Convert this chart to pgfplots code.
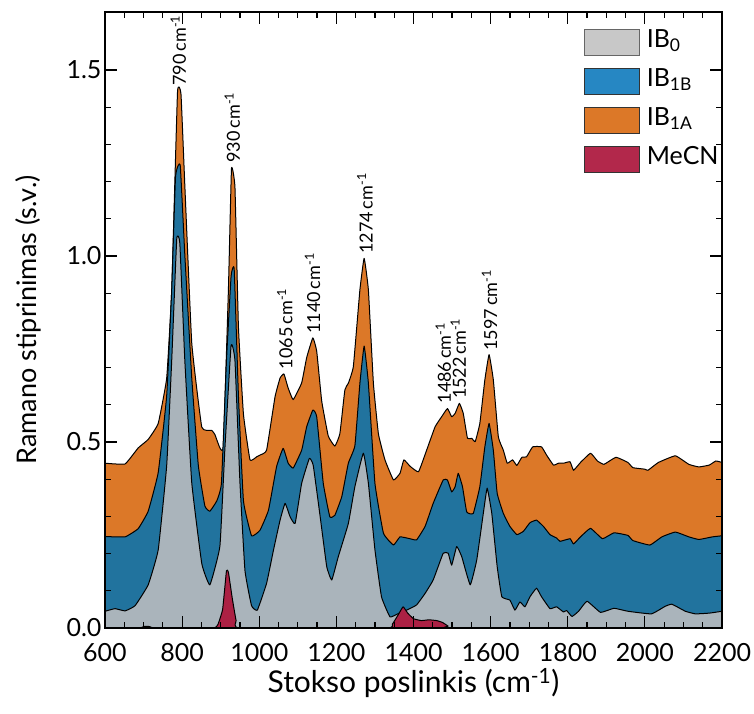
\documentclass[border=0pt]{standalone}
\usepackage{fontspec}
\setmainfont{Lato}
\usepackage{pgfplots}
\usepackage{pgfplotstable}
\pgfplotsset{compat=1.18}
\definecolor{cOr}{RGB}{220,120,40}
\definecolor{cBl}{RGB}{33,115,158}
\definecolor{cGr}{RGB}{170,180,187}
\definecolor{cRd}{RGB}{172,33,68}
\definecolor{lGr}{RGB}{200,200,200}
\definecolor{lBl}{RGB}{38,135,195}
\definecolor{lOr}{RGB}{220,120,40}
\definecolor{lRd}{RGB}{178,40,75}

\pgfplotstableread{
x y
600 0.443
652 0.441
686 0.484
712 0.507
738 0.550
760 0.672
773 0.909
788 1.440
797 1.436
807 1.190
825 0.766
851 0.540
877 0.531
885 0.520
898 0.484
907 0.490
920 0.909
928 1.235
937 1.185
946 0.810
959 0.575
976 0.452
993 0.460
1002 0.465
1019 0.478
1041 0.622
1054 0.672
1064 0.683
1075 0.645
1088 0.614
1110 0.659
1123 0.727
1139 0.780
1149 0.744
1162 0.610
1179 0.516
1196 0.489
1209 0.522
1222 0.640
1231 0.658
1244 0.703
1261 0.909
1272 0.994
1283 0.909
1296 0.658
1309 0.522
1326 0.452
1348 0.398
1365 0.416
1375 0.452
1391 0.435
1413 0.420
1434 0.478
1456 0.541
1473 0.568
1488 0.590
1499 0.568
1508 0.577
1519 0.604
1529 0.577
1540 0.510
1551 0.510
1560 0.501
1572 0.550
1585 0.667
1596 0.735
1607 0.667
1620 0.514
1633 0.478
1643 0.443
1657 0.452
1668 0.437
1681 0.459
1693 0.460
1709 0.487
1732 0.487
1745 0.465
1763 0.438
1776 0.443
1789 0.443
1806 0.447
1815 0.424
1833 0.445
1859 0.470
1877 0.449
1894 0.440
1925 0.459
1956 0.445
1969 0.431
2000 0.427
2008 0.424
2035 0.445
2079 0.463
2114 0.440
2140 0.433
2167 0.438
2184 0.449
2200 0.445
}\tabOr

\pgfplotstableread{
x y
600 0.246
652 0.245
686 0.267
712 0.314
738 0.418
760 0.625
773 0.909
783 1.215
795 1.245
807 1.003
825 0.672
842 0.437
859 0.328
872 0.314
890 0.342
902 0.390
915 0.719
927 0.946
935 0.965
946 0.625
959 0.342
980 0.248
1002 0.263
1024 0.317
1045 0.434
1062 0.483
1075 0.443
1088 0.430
1110 0.478
1123 0.541
1139 0.586
1149 0.568
1166 0.389
1183 0.299
1196 0.303
1214 0.353
1231 0.443
1248 0.490
1261 0.658
1272 0.758
1283 0.658
1300 0.389
1322 0.255
1348 0.223
1365 0.245
1391 0.240
1408 0.237
1430 0.273
1451 0.335
1477 0.398
1488 0.398
1499 0.366
1508 0.380
1516 0.416
1527 0.380
1538 0.312
1555 0.308
1572 0.380
1585 0.487
1596 0.550
1607 0.478
1617 0.362
1633 0.308
1650 0.273
1668 0.251
1685 0.260
1702 0.283
1719 0.290
1737 0.273
1754 0.251
1771 0.242
1780 0.233
1806 0.240
1815 0.226
1833 0.245
1859 0.268
1890 0.240
1920 0.256
1956 0.249
1969 0.235
2013 0.223
2044 0.245
2079 0.258
2114 0.245
2140 0.238
2175 0.245
2200 0.248
}\tabBl

\pgfplotstableread{
x y
600 0.045
626 0.052
652 0.046
678 0.060
712 0.116
738 0.210
760 0.437
773 0.719
786 1.045
794 1.035
807 0.719
825 0.390
851 0.173
872 0.116
898 0.220
911 0.484
927 0.760
937 0.719
950 0.390
963 0.154
980 0.060
995 0.048
1019 0.120
1037 0.210
1054 0.290
1067 0.335
1080 0.299
1093 0.281
1110 0.389
1130 0.456
1140 0.437
1158 0.299
1175 0.165
1188 0.129
1205 0.192
1231 0.281
1248 0.380
1270 0.470
1283 0.389
1300 0.210
1317 0.084
1339 0.030
1361 0.039
1382 0.048
1408 0.062
1430 0.093
1451 0.129
1477 0.201
1490 0.201
1499 0.169
1512 0.219
1525 0.192
1547 0.116
1564 0.183
1581 0.308
1591 0.376
1603 0.308
1617 0.165
1629 0.084
1650 0.075
1663 0.048
1676 0.070
1689 0.057
1702 0.084
1719 0.107
1732 0.084
1754 0.052
1771 0.057
1789 0.043
1797 0.047
1811 0.031
1828 0.045
1850 0.072
1885 0.042
1920 0.053
1956 0.045
2017 0.038
2052 0.058
2070 0.064
2105 0.045
2131 0.038
2167 0.040
2200 0.045
}\tabGr

\pgfplotstableread{
x y
600 0
690 0
700 0.004
715 0.004
730 0
880 0
893 0.010
905 0.050
915 0.154
920 0.150
930 0.080
940 0.020
950 0
1330 0
1345 0.010
1360 0.035
1373 0.057
1385 0.040
1400 0.025
1420 0.020
1440 0.022
1460 0.020
1475 0.015
1490 0.005
1500 0
2200 0
}\tabRd

\begin{document}
\begin{tikzpicture}
\begin{axis}[
  scale only axis, width=617pt, height=616pt,
  xmin=600, xmax=2200, ymin=0, ymax=1.656,
  xtick={600,800,...,2200}, minor x tick num=3,
  ytick={0,0.5,1,1.5}, minor y tick num=4,
  tick align=inside, xtick pos=both, ytick pos=both,
  major tick length=12pt, minor tick length=6pt,
  every tick/.style={black, line width=1.2pt},
  axis line style={line width=1.6pt},
  tick label style={font=\fontsize{25}{30}\selectfont},
  /pgf/number format/assume math mode=true,
  yticklabel style={/pgf/number format/.cd, fixed, fixed zerofill, precision=1},
  xticklabel style={/pgf/number format/1000 sep={}, yshift=-12pt},
  xlabel={Stokso poslinkis (cm\textsuperscript{-1})},
  ylabel={Ramano stiprinimas (s.v.)},
  xlabel style={font=\fontsize{30}{34}\selectfont, at={(axis description cs:0.5,-0.09)}, anchor=center},
  ylabel style={font=\fontsize{27}{32}\selectfont, at={(axis description cs:-0.125,0.5)}, anchor=center},
  axis on top,
  legend image code/.code={\draw[#1] (0pt,-13pt) rectangle (55pt,13pt);},
  legend style={at={(axis description cs:0.776,0.975)}, anchor=north west, draw=none, fill=none,
    font=\fontsize{25}{28}\selectfont, row sep=10pt, inner sep=0pt,
    nodes={text height=18pt, text depth=7pt},
    /tikz/every odd column/.append style={column sep=5pt}},
  legend cell align=left,
]
\addlegendimage{fill=lGr, draw=black!60, line width=0.8pt}
\addlegendentry{IB\textsubscript{0}}
\addlegendimage{fill=lBl, draw=black!80, line width=0.8pt}
\addlegendentry{IB\textsubscript{1B}}
\addlegendimage{fill=lOr, draw=black!80, line width=0.8pt}
\addlegendentry{IB\textsubscript{1A}}
\addlegendimage{fill=lRd, draw=black!80, line width=0.8pt}
\addlegendentry{MeCN}

\addplot[forget plot, smooth, tension=0.2, fill=cOr, draw=black, line width=1pt, line join=round] table {\tabOr} \closedcycle;
\addplot[forget plot, smooth, tension=0.2, fill=cBl, draw=black, line width=1pt, line join=round] table {\tabBl} \closedcycle;
\addplot[forget plot, smooth, tension=0.2, fill=cGr, draw=black, line width=1pt, line join=round] table {\tabGr} \closedcycle;
\addplot[forget plot, smooth, tension=0.2, fill=cRd, draw=black, line width=1pt, line join=round] table {\tabRd} \closedcycle;

\tikzset{pk/.style={rotate=90, anchor=west, font=\fontsize{18}{20}\selectfont, inner sep=2pt}}
\node[pk] at (axis cs:790,1.452) {790\,cm\textsuperscript{-1}};
\node[pk] at (axis cs:930,1.245) {930\,cm\textsuperscript{-1}};
\node[pk] at (axis cs:1066,0.69) {1065\,cm\textsuperscript{-1}};
\node[pk] at (axis cs:1138,0.785) {1140\,cm\textsuperscript{-1}};
\node[pk] at (axis cs:1274,1.0) {1274\,cm\textsuperscript{-1}};
\node[pk] at (axis cs:1477,0.598) {1486\,cm\textsuperscript{-1}};
\node[pk] at (axis cs:1516,0.61) {1522\,cm\textsuperscript{-1}};
\node[pk] at (axis cs:1597,0.74) {1597\,cm\textsuperscript{-1}};
\end{axis}
\pgfresetboundingbox
\path ([xshift=-105pt,yshift=-85pt]current axis.south west) rectangle ([xshift=32pt,yshift=12pt]current axis.north east);
\end{tikzpicture}
\end{document}
